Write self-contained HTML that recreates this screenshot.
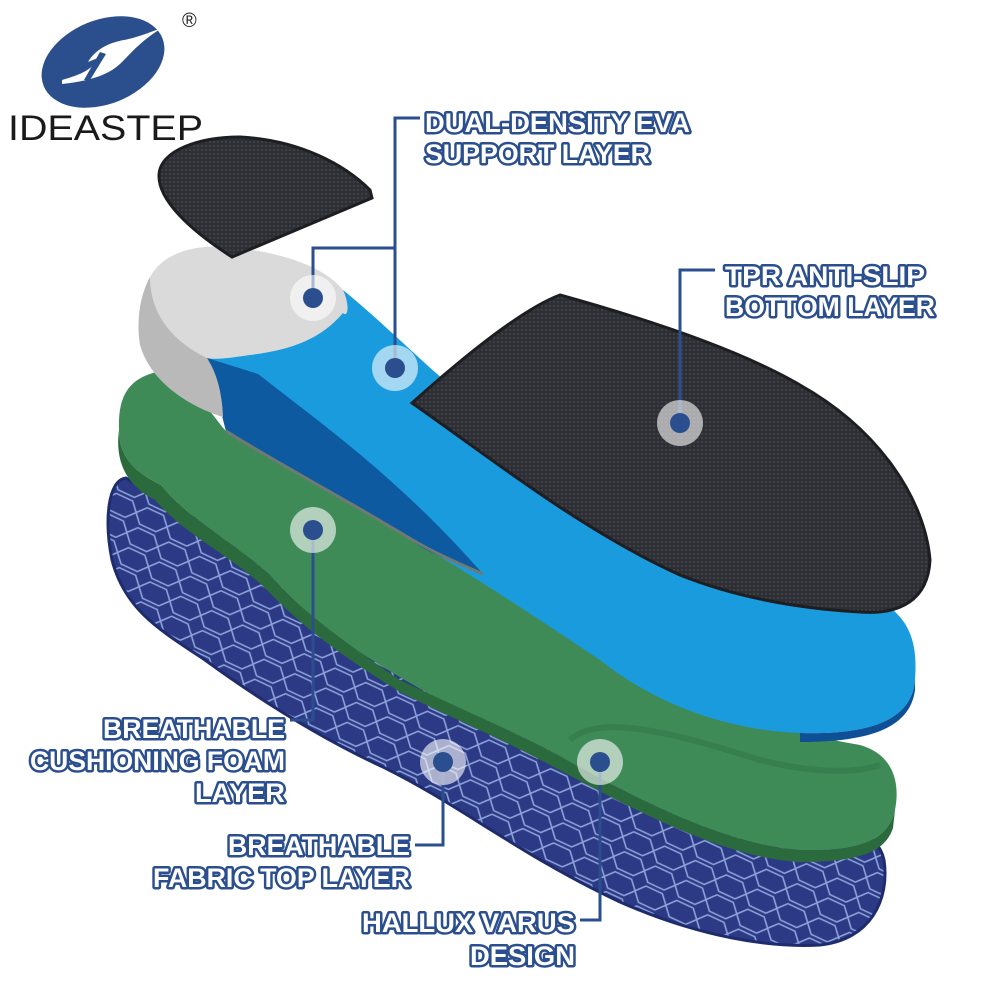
<!DOCTYPE html>
<html><head><meta charset="utf-8"><style>
html,body{margin:0;padding:0;background:#fff;}
svg{display:block}
.lb{font-family:"Liberation Sans",sans-serif;font-weight:bold;font-size:27px;fill:#fff;stroke:#2b4f8e;stroke-width:5px;paint-order:stroke;stroke-linejoin:round;}
</style></head><body>
<svg width="1000" height="1000" viewBox="0 0 1000 1000" xmlns="http://www.w3.org/2000/svg">
<defs>
<pattern id="mesh" width="34" height="22" patternUnits="userSpaceOnUse" patternTransform="rotate(25)">
<rect width="34" height="22" fill="#2c3a86"/>
<path d="M0,11 L8,2 L26,2 L34,11 L26,20 L8,20 Z" fill="none" stroke="#8ea3da" stroke-width="1.6"/>
</pattern>
<pattern id="dots" width="4" height="4" patternUnits="userSpaceOnUse">
<rect width="4" height="4" fill="#2d2f35"/><circle cx="2" cy="2" r="1" fill="#42454c"/>
</pattern>
</defs>

<!-- logo -->
<ellipse cx="103" cy="62" rx="64" ry="42" transform="rotate(-22 103 62)" fill="#2b4f8c"/>
<path d="M62,80 C82,74 92,70 98,58 L88,62 C96,48 112,42 124,40 C136,38 150,32 162,28 C142,40 132,52 122,62 C112,72 98,80 62,84 Z" fill="#fff"/>
<path d="M100,52 L106,54 L90,80 L84,80 Z" fill="#2b4f8c"/>
<text x="182" y="27" font-family="Liberation Sans,sans-serif" font-size="20" fill="#222">®</text>
<text x="8" y="140" font-family="Liberation Sans,sans-serif" font-size="35" fill="#1a1a1a" textLength="195" lengthAdjust="spacingAndGlyphs">IDEASTEP</text>

<!-- bottom mesh layer -->
<path d="M126,478 C108,480 104,520 112,560 C125,610 160,630 205,660 C260,700 320,738 385,768 C460,805 520,855 620,902 C700,937 770,948 820,945 C870,940 890,900 884,860 C878,830 840,820 780,810 L400,640 Z" fill="url(#mesh)" stroke="#1e2c6e" stroke-width="3"/>

<!-- green layer -->
<path d="M161,371 C200,390 215,420 226,431 C280,465 340,496 411,539 C470,570 560,630 650,681 C720,715 800,735 860,745 C895,755 900,785 895,810 C888,840 860,852 800,850 C720,845 620,790 554,753 C500,725 447,703 447,703 C400,680 340,639 340,639 C300,610 269,574 269,574 C230,540 190,520 161,485 C130,470 119,453 119,430 C118,400 125,378 161,371 Z" fill="#3f8b58"/>
<path d="M119,430 C119,453 130,470 161,485 C190,520 230,540 269,574 C300,610 340,639 400,680 C447,703 500,725 554,753 C620,790 720,845 800,850 C860,852 888,840 895,810 L893,828 C885,852 860,862 800,862 C720,858 620,802 550,765 C500,738 447,716 400,692 C340,655 300,625 265,588 C230,555 185,535 155,500 C125,485 115,460 119,430 Z" fill="#2a6a3c"/>
<path d="M570,740 C600,712 680,735 760,760 C820,775 860,772 880,765" fill="none" stroke="#347a4a" stroke-width="6" opacity="0.7"/>

<!-- blue EVA layer -->
<path d="M343,290 C380,320 420,360 450,385 C560,460 700,560 850,590 C910,605 918,640 915,680 C912,720 870,735 800,733 C720,730 650,700 600,660 C540,620 480,580 411,539 C340,496 280,465 226,431 L207,358 Z" fill="#1a9bde"/>
<path d="M207,358 L258,374 C330,430 400,480 483,574 C450,560 420,550 411,539 C340,496 280,465 226,431 Z" fill="#0d5aa0"/>
<path d="M226,431 C280,465 340,496 411,539 C440,556 465,566 483,574" fill="none" stroke="#6f7a74" stroke-width="3"/>
<path d="M800,733 C870,735 912,720 915,680 L915,690 C910,728 870,742 800,742 Z" fill="#0e4f95"/>

<!-- gray heel cup -->
<path d="M150,277 C140,295 136,320 140,345 C150,380 185,405 223,417 C222,395 218,375 207,358 Z" fill="#b9b9b9"/>
<path d="M150,277 C165,250 200,243 240,248 C290,255 325,268 343,290 C350,305 348,318 343,313 C320,340 290,350 250,355 C230,358 215,360 207,358 C180,345 150,320 150,277 Z" fill="#dadada"/>

<!-- black forefoot pad -->
<path d="M412,403 C460,360 520,310 560,295 C650,320 740,350 800,385 C880,430 925,500 930,560 C928,600 900,615 860,612 C790,608 730,595 680,575 C580,530 480,450 412,403 Z" fill="url(#dots)" stroke="#1d1e22" stroke-width="3"/>

<!-- black heel pad -->
<path d="M159,175 C160,150 200,137 240,137 C300,140 345,165 370,190 L372,198 L232,257 C190,230 158,200 159,175 Z" fill="url(#dots)" stroke="#1d1e22" stroke-width="3"/>

<!-- connectors -->
<g fill="none" stroke="#2b4f8e" stroke-width="3">
<path d="M313,290 V248 H395"/>
<path d="M395,360 V118 H420"/>
<path d="M680,415 V270 H715"/>
<path d="M313,535 V720 H290"/>
<path d="M443,770 V845 H415"/>
<path d="M600,770 V920 H580"/>
</g>
<g fill="#fff" opacity="0.6">
<circle cx="313" cy="298" r="23"/><circle cx="395" cy="368" r="23"/><circle cx="680" cy="423" r="23"/>
<circle cx="313" cy="530" r="23"/><circle cx="443" cy="762" r="23"/><circle cx="600" cy="762" r="23"/>
</g>
<g fill="#2b4f8e">
<circle cx="313" cy="298" r="10"/><circle cx="395" cy="368" r="10"/><circle cx="680" cy="423" r="10"/>
<circle cx="313" cy="530" r="10"/><circle cx="443" cy="762" r="10"/><circle cx="600" cy="762" r="10"/>
</g>

<!-- labels -->
<text class="lb" x="425" y="132" textLength="265" lengthAdjust="spacingAndGlyphs">DUAL-DENSITY EVA</text>
<text class="lb" x="425" y="163" textLength="225" lengthAdjust="spacingAndGlyphs">SUPPORT LAYER</text>
<text class="lb" x="725" y="285" textLength="200" lengthAdjust="spacingAndGlyphs">TPR ANTI-SLIP</text>
<text class="lb" x="725" y="316" textLength="210" lengthAdjust="spacingAndGlyphs">BOTTOM LAYER</text>
<text class="lb" x="103" y="738" textLength="182" lengthAdjust="spacingAndGlyphs">BREATHABLE</text>
<text class="lb" x="30" y="770" textLength="255" lengthAdjust="spacingAndGlyphs">CUSHIONING FOAM</text>
<text class="lb" x="195" y="802" textLength="90" lengthAdjust="spacingAndGlyphs">LAYER</text>
<text class="lb" x="228" y="855" textLength="182" lengthAdjust="spacingAndGlyphs">BREATHABLE</text>
<text class="lb" x="153" y="887" textLength="257" lengthAdjust="spacingAndGlyphs">FABRIC TOP LAYER</text>
<text class="lb" x="362" y="932" textLength="213" lengthAdjust="spacingAndGlyphs">HALLUX VARUS</text>
<text class="lb" x="470" y="965" textLength="105" lengthAdjust="spacingAndGlyphs">DESIGN</text>
</svg>
</body></html>
